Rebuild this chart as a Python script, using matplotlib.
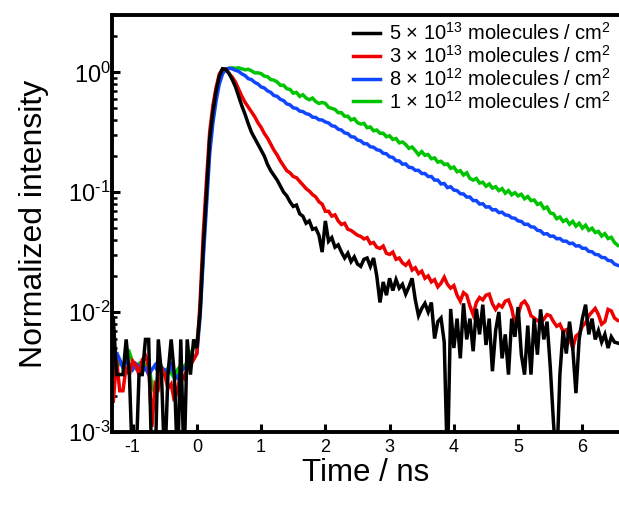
import numpy as np
import matplotlib
matplotlib.use("Agg")
import matplotlib.pyplot as plt
from matplotlib.ticker import LogLocator, FixedLocator, FuncFormatter

plt.rcParams['font.family'] = ['Liberation Sans', 'DejaVu Sans']
plt.rcParams['mathtext.fontset'] = 'custom'
plt.rcParams['mathtext.rm'] = 'Liberation Sans'
plt.rcParams['mathtext.it'] = 'Liberation Sans:italic'
plt.rcParams['mathtext.bf'] = 'Liberation Sans:bold'
plt.rcParams['axes.unicode_minus'] = False

# time bins (ns), 0.05 ns spacing
time_ns = np.round(np.arange(-1.30, 6.5501, 0.05), 2)

labels = [
    "5 × 10$^{13}$ molecules / cm$^{2}$",
    "3 × 10$^{13}$ molecules / cm$^{2}$",
    "8 × 10$^{12}$ molecules / cm$^{2}$",
    "1 × 10$^{12}$ molecules / cm$^{2}$",
]
colors = ["#000000", "#ee0000", "#1146ff", "#00c400"]

black = [
    # baseline t=-1.30 .. -0.05
    0.0089, 0.0030, 0.0030, 0.0030, 0.0059, 0.0030, 0.0005, 0.0005, 0.0030, 0.0030,
    0.0059, 0.0059, 0.0005, 0.0005, 0.0059, 0.0030, 0.0005, 0.0030, 0.0059, 0.0030,
    0.0005, 0.0059, 0.0005, 0.0059, 0.0030, 0.0059,
    # rise t=0.00 .. 0.45
    0.0050, 0.010, 0.035, 0.10, 0.28, 0.47, 0.70, 0.93, 1.07, 1.06,
    # decay t=0.50 ..
    0.98, 0.87, 0.76, 0.63, 0.525, 0.447, 0.372, 0.316, 0.282, 0.251,
    0.224, 0.200, 0.170, 0.151, 0.138, 0.126, 0.112, 0.100, 0.093, 0.083,
    0.076, 0.078, 0.066, 0.063, 0.055, 0.0575, 0.049, 0.050, 0.0437, 0.0316,
    0.0575, 0.0389, 0.0417, 0.0347, 0.0363, 0.0316, 0.0282, 0.0309, 0.0263, 0.0288,
    0.0251, 0.0240, 0.0275, 0.0282, 0.0240, 0.0282, 0.0200, 0.0120, 0.0178, 0.0138,
    0.0191, 0.0151, 0.0186, 0.0158, 0.0170, 0.0141, 0.0162, 0.0191, 0.0126, 0.0093,
    0.0107, 0.0118, 0.0100, 0.0120, 0.0060, 0.0083, 0.0089, 0.0056, 0.0005, 0.0106,
    0.0050, 0.0088, 0.0041, 0.0118, 0.0059, 0.0088, 0.0047, 0.0106, 0.0065, 0.0115,
    0.0053, 0.0088, 0.0032, 0.0070, 0.0100, 0.0041, 0.0065, 0.0030, 0.0088, 0.0062,
    0.0110, 0.0044, 0.0030, 0.0077, 0.0030, 0.0088, 0.0044, 0.0105, 0.0059, 0.0083,
    0.0035, 0.0012, 0.0005, 0.0030, 0.0070, 0.0045, 0.0083, 0.0050, 0.0021, 0.0059,
    0.0088, 0.0115, 0.0065, 0.0088, 0.0059, 0.0070, 0.0056, 0.0065, 0.0050, 0.0062,
    0.0056, 0.0055,
]

red = [
    0.0018, 0.0040, 0.0022, 0.0022, 0.0035, 0.0030, 0.0039, 0.0036, 0.0030, 0.0040,
    0.0043, 0.0035, 0.0011, 0.0025, 0.0023, 0.0034, 0.0030, 0.0023, 0.0025, 0.0018,
    0.0023, 0.0030, 0.0028, 0.0034, 0.0036, 0.0040,
    0.0045, 0.012, 0.045, 0.125, 0.32, 0.53, 0.75, 0.97, 1.07, 1.06,
    0.977, 0.912, 0.832, 0.724, 0.631, 0.562, 0.513, 0.468, 0.427, 0.380,
    0.347, 0.309, 0.282, 0.251, 0.224, 0.204, 0.182, 0.166, 0.151, 0.145,
    0.135, 0.132, 0.123, 0.115, 0.107, 0.102, 0.0955, 0.0912, 0.0832, 0.0794,
    0.0692, 0.0692, 0.0631, 0.0646, 0.0575, 0.0537, 0.0550, 0.0490, 0.0479, 0.0457,
    0.0437, 0.0427, 0.0407, 0.0417, 0.0372, 0.0380, 0.0347, 0.0339, 0.0355, 0.0309,
    0.0302, 0.0316, 0.0275, 0.0282, 0.0257, 0.0245, 0.0263, 0.0224, 0.0234, 0.0209,
    0.0219, 0.0191, 0.0200, 0.0178, 0.0186, 0.0162, 0.0174, 0.0195, 0.0170, 0.0158,
    0.0166, 0.0138, 0.0123, 0.0145, 0.0138, 0.0112, 0.0095, 0.0120, 0.0132, 0.0126,
    0.0138, 0.0141, 0.0117, 0.0105, 0.0115, 0.0110, 0.0123, 0.0126, 0.0107, 0.0079,
    0.0095, 0.0117, 0.0123, 0.0112, 0.0093, 0.0089, 0.0085, 0.0081, 0.0087, 0.0095,
    0.0093, 0.0083, 0.0076, 0.0079, 0.0069, 0.0071, 0.0060, 0.0050, 0.0063, 0.0066,
    0.0076, 0.0081, 0.0093, 0.0100, 0.0107, 0.0095, 0.0079, 0.0083, 0.0105, 0.0102,
    0.0089, 0.0085,
]

blue = [
    0.0030, 0.0046, 0.0040, 0.0034, 0.0038, 0.0036, 0.0033, 0.0037, 0.0035, 0.0032,
    0.0034, 0.0030, 0.0033, 0.0036, 0.0031, 0.0034, 0.0033, 0.0031, 0.0036, 0.0030,
    0.0028, 0.0032, 0.0034, 0.0035, 0.0037, 0.0041,
    0.0045, 0.009, 0.028, 0.078, 0.21, 0.38, 0.58, 0.80, 0.97, 1.06,
    1.08, 1.07, 1.04, 1.02, 0.97, 0.94, 0.885, 0.87, 0.825, 0.80,
    0.755, 0.74, 0.70, 0.68, 0.64, 0.63, 0.595, 0.58, 0.545, 0.535,
    0.505, 0.50, 0.475, 0.47, 0.452, 0.445, 0.422, 0.42, 0.402, 0.40,
    0.385, 0.378, 0.358, 0.354, 0.335, 0.33, 0.312, 0.308, 0.29, 0.288,
    0.272, 0.268, 0.254, 0.253, 0.239, 0.237, 0.226, 0.223, 0.211, 0.209,
    0.197, 0.195, 0.183, 0.182, 0.171, 0.172, 0.161, 0.16, 0.152, 0.152,
    0.143, 0.143, 0.135, 0.135, 0.126, 0.126, 0.117, 0.118, 0.109, 0.111,
    0.104, 0.103, 0.097, 0.0965, 0.091, 0.091, 0.085, 0.085, 0.0795, 0.080,
    0.075, 0.0755, 0.071, 0.0715, 0.0675, 0.068, 0.0645, 0.064, 0.061, 0.0605,
    0.0575, 0.057, 0.0538, 0.054, 0.0513, 0.051, 0.048, 0.0475, 0.0447, 0.045,
    0.0428, 0.043, 0.0408, 0.041, 0.039, 0.039, 0.0372, 0.0375, 0.0355, 0.0357,
    0.034, 0.034, 0.032, 0.0318, 0.0302, 0.030, 0.0285, 0.0284, 0.0269, 0.0267,
    0.0251, 0.0245,
]

green = [
    0.0036, 0.0033, 0.0039, 0.0035, 0.0042, 0.0046, 0.0038, 0.0034, 0.0037, 0.0033,
    0.0036, 0.0038, 0.0024, 0.0021, 0.0031, 0.0035, 0.0030, 0.0034, 0.0031, 0.0028,
    0.0033, 0.0036, 0.0035, 0.0038, 0.0045, 0.0050,
    0.0055, 0.010, 0.032, 0.09, 0.24, 0.42, 0.64, 0.86, 1.00, 1.06,
    1.08, 1.09, 1.08, 1.09, 1.07, 1.05, 1.06, 1.03, 0.99, 0.99,
    0.975, 0.93, 0.92, 0.87, 0.86, 0.83, 0.78, 0.78, 0.73, 0.72,
    0.67, 0.68, 0.63, 0.65, 0.61, 0.59, 0.61, 0.57, 0.55, 0.56,
    0.55, 0.51, 0.50, 0.49, 0.46, 0.46, 0.43, 0.43, 0.40, 0.41,
    0.38, 0.37, 0.375, 0.345, 0.35, 0.325, 0.33, 0.31, 0.31, 0.29,
    0.295, 0.275, 0.28, 0.258, 0.262, 0.25, 0.232, 0.238, 0.222, 0.205,
    0.218, 0.203, 0.206, 0.19, 0.193, 0.178, 0.181, 0.17, 0.172, 0.158,
    0.162, 0.148, 0.151, 0.139, 0.145, 0.13, 0.126, 0.13, 0.119, 0.121,
    0.112, 0.117, 0.108, 0.111, 0.103, 0.107, 0.098, 0.103, 0.095, 0.099,
    0.093, 0.096, 0.088, 0.092, 0.085, 0.086, 0.079, 0.081, 0.073, 0.075,
    0.067, 0.066, 0.060, 0.062, 0.057, 0.059, 0.054, 0.057, 0.052, 0.055,
    0.050, 0.053, 0.048, 0.050, 0.046, 0.047, 0.043, 0.045, 0.041, 0.042,
    0.038, 0.036,
]

series = [black, red, blue, green]

fig = plt.figure(figsize=(6.19, 5.05), dpi=100)
ax = fig.add_axes([0.181, 0.145, 0.819, 0.825])

handles = [None] * 4
for idx in [3, 2, 1, 0]:
    (ln,) = ax.plot(time_ns, series[idx], color=colors[idx], lw=2.5,
                    solid_joinstyle='miter', label=labels[idx])
    handles[idx] = ln

ax.set_yscale('log')
ax.set_ylim(1e-3, 3.0)
ax.set_xlim(-1.32, 6.57)

ax.xaxis.set_major_locator(FixedLocator([-1, 0, 1, 2, 3, 4, 5, 6]))
ax.yaxis.set_major_locator(LogLocator(base=10, numticks=10))
ax.yaxis.set_minor_locator(LogLocator(base=10, subs=np.arange(2, 10), numticks=20))


def log_label(v, pos):
    e = int(round(np.log10(v)))
    return "10$^{\\text{%d}}$" % e


ax.yaxis.set_major_formatter(FuncFormatter(log_label))

for side in ['left', 'bottom', 'top']:
    ax.spines[side].set_linewidth(2.8)
ax.spines['right'].set_visible(False)

ax.tick_params(axis='both', which='major', direction='in', length=5.5, width=2.2,
               top=False, right=False)
ax.tick_params(axis='x', which='major', labelsize=13, pad=5)
ax.tick_params(axis='y', which='major', labelsize=17, pad=1)
ax.tick_params(axis='y', which='minor', direction='in', length=3.5, width=1.8, right=False)

ax.set_xlabel('Time / ns', fontsize=22.5, labelpad=2)
ax.set_ylabel('Normalized intensity', fontsize=23, labelpad=14)

leg = ax.legend(handles=handles, loc='upper right', bbox_to_anchor=(1.0, 1.002),
                frameon=False, fontsize=14.5, handlelength=1.35, handletextpad=0.45,
                labelspacing=0.04, borderaxespad=0.0)

fig.savefig('out.png', dpi=100)
